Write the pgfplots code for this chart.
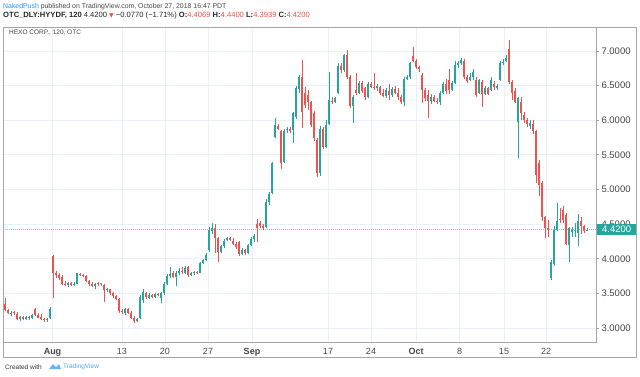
\documentclass[border=0pt]{standalone}
\usepackage{pgfplots}
\pgfplotsset{compat=1.18}
\usepackage{pgfplotstable}
\usepackage{fontspec}
\setmainfont{Liberation Sans}
\newfontfamily\symfont{DejaVu Sans}
\definecolor{tvgreen}{RGB}{38,166,154}
\definecolor{tvred}{RGB}{239,83,80}
\definecolor{tvblue}{RGB}{33,150,243}
\definecolor{gridc}{RGB}{234,240,245}
\definecolor{framec}{RGB}{165,165,165}
\definecolor{txt}{RGB}{70,70,70}

\pgfplotstableread{
x o h l c
5 3.34 3.43 3.24 3.26
8 3.26 3.28 3.20 3.22
11 3.20 3.24 3.18 3.22
14 3.22 3.24 3.19 3.21
17 3.20 3.23 3.12 3.13
20 3.13 3.18 3.10 3.16
23 3.16 3.18 3.11 3.13
26 3.13 3.17 3.11 3.16
29 3.15 3.18 3.12 3.14
32 3.14 3.20 3.13 3.19
35 3.27 3.29 3.17 3.19
38 3.19 3.22 3.14 3.15
41 3.16 3.20 3.12 3.13
44 3.13 3.15 3.09 3.11
47 3.11 3.14 3.09 3.12
50 3.14 3.30 3.13 3.28
53 4.04 4.06 3.43 3.80
56 3.80 3.82 3.72 3.76
59 3.76 3.79 3.70 3.72
62 3.74 3.76 3.62 3.64
65 3.64 3.68 3.60 3.62
68 3.62 3.67 3.59 3.65
71 3.65 3.67 3.60 3.62
74 3.62 3.66 3.61 3.64
77 3.64 3.80 3.63 3.79
80 3.78 3.79 3.75 3.76
83 3.76 3.78 3.73 3.75
86 3.75 3.76 3.66 3.68
89 3.68 3.70 3.61 3.63
92 3.63 3.66 3.59 3.61
95 3.60 3.65 3.56 3.64
98 3.64 3.67 3.61 3.63
101 3.63 3.65 3.60 3.64
104 3.62 3.63 3.38 3.55
107 3.55 3.58 3.52 3.56
110 3.56 3.57 3.48 3.50
113 3.50 3.52 3.44 3.46
116 3.46 3.48 3.40 3.42
119 3.42 3.44 3.22 3.25
122 3.25 3.28 3.20 3.23
125 3.21 3.29 3.19 3.27
128 3.27 3.29 3.20 3.22
131 3.22 3.24 3.13 3.15
134 3.15 3.17 3.07 3.10
137 3.10 3.15 3.08 3.13
140 3.14 3.47 3.13 3.45
143 3.40 3.56 3.36 3.52
146 3.50 3.52 3.42 3.45
149 3.44 3.50 3.42 3.48
152 3.47 3.49 3.43 3.45
155 3.45 3.50 3.44 3.49
158 3.49 3.51 3.46 3.47
161 3.43 3.52 3.36 3.50
164 3.50 3.66 3.48 3.64
167 3.64 3.78 3.62 3.75
170 3.75 3.88 3.72 3.78
173 3.79 3.82 3.72 3.74
176 3.74 3.82 3.60 3.80
179 3.80 3.86 3.76 3.83
182 3.83 3.88 3.78 3.81
185 3.80 3.90 3.78 3.87
188 3.88 3.90 3.74 3.77
191 3.77 3.81 3.75 3.79
194 3.79 3.82 3.77 3.80
197 3.81 3.83 3.78 3.79
200 3.80 3.96 3.79 3.94
203 3.94 4.00 3.92 3.98
206 3.98 4.08 3.97 4.06
209 4.12 4.46 4.10 4.42
212 4.40 4.52 4.36 4.45
215 4.44 4.50 4.08 4.30
218 4.30 4.32 3.96 4.10
221 4.10 4.20 4.08 4.18
224 4.18 4.28 4.16 4.26
227 4.27 4.32 4.25 4.30
230 4.30 4.31 4.26 4.27
233 4.26 4.30 4.20 4.22
236 4.22 4.24 4.14 4.17
239 4.24 4.26 4.04 4.07
242 4.07 4.15 4.05 4.12
245 4.12 4.14 4.05 4.08
248 4.08 4.22 4.07 4.20
251 4.20 4.32 4.18 4.29
254 4.28 4.36 4.24 4.33
257 4.50 4.57 4.24 4.44
260 4.52 4.55 4.45 4.47
263 4.47 4.50 4.42 4.44
266 4.46 4.86 4.45 4.82
269 4.82 4.97 4.78 4.94
272 4.95 5.40 4.93 5.38
275 5.76 6.03 5.74 5.93
278 5.92 5.95 5.86 5.88
281 5.84 5.86 5.30 5.38
284 5.40 5.88 5.38 5.84
287 5.86 5.90 5.82 5.88
290 5.88 5.90 5.82 5.84
293 5.86 6.12 5.67 6.10
296 6.05 6.50 6.02 6.47
299 6.45 6.66 6.40 6.62
302 6.62 6.87 5.89 6.12
305 6.40 6.48 6.18 6.22
308 6.36 6.44 6.15 6.26
311 6.26 6.28 5.90 5.93
314 6.10 6.14 5.70 5.74
317 5.72 5.74 5.18 5.24
320 5.24 5.92 5.20 5.88
323 5.88 5.90 5.58 5.62
326 5.62 6.00 5.60 5.93
329 5.95 6.70 5.93 6.29
332 6.28 6.33 6.24 6.26
335 6.27 6.34 6.25 6.32
338 6.40 6.82 6.38 6.78
341 6.78 6.82 6.68 6.72
344 6.72 6.96 6.70 6.94
347 6.94 7.01 6.60 6.62
350 6.62 6.66 6.18 6.20
353 6.20 6.36 5.96 6.34
356 6.44 6.68 6.36 6.40
359 6.40 6.56 6.38 6.54
362 6.54 6.56 6.40 6.43
365 6.46 6.48 6.30 6.33
368 6.33 6.55 6.32 6.52
371 6.52 6.55 6.46 6.48
374 6.48 6.68 6.44 6.46
377 6.46 6.52 6.43 6.50
380 6.48 6.50 6.36 6.40
383 6.40 6.45 6.33 6.35
386 6.35 6.46 6.32 6.44
389 6.42 6.52 6.30 6.36
392 6.36 6.48 6.34 6.45
395 6.45 6.50 6.38 6.40
398 6.40 6.46 6.30 6.34
401 6.34 6.36 6.24 6.27
404 6.26 6.62 6.20 6.60
407 6.60 6.66 6.58 6.62
410 6.62 6.84 6.60 6.82
413 6.93 7.06 6.84 6.86
416 6.86 6.88 6.74 6.77
419 6.77 6.79 6.70 6.74
422 6.66 6.68 6.25 6.44
425 6.44 6.46 6.28 6.32
428 6.36 6.44 6.03 6.28
431 6.28 6.38 6.24 6.34
434 6.34 6.36 6.26 6.28
437 6.28 6.32 6.24 6.26
440 6.26 6.42 6.22 6.40
443 6.40 6.55 6.38 6.52
446 6.52 6.60 6.38 6.42
449 6.58 6.74 6.38 6.44
452 6.44 6.56 6.42 6.54
455 6.54 6.86 6.52 6.80
458 6.80 6.86 6.76 6.83
461 6.83 6.90 6.80 6.87
464 6.86 6.88 6.60 6.63
467 6.63 6.66 6.54 6.56
470 6.58 6.68 6.56 6.62
473 6.62 6.74 6.58 6.70
476 6.58 6.62 6.34 6.37
479 6.40 6.60 6.38 6.58
482 6.55 6.58 6.19 6.38
485 6.38 6.50 6.36 6.46
488 6.46 6.48 6.36 6.38
491 6.44 6.62 6.42 6.58
494 6.52 6.56 6.44 6.48
497 6.46 6.52 6.44 6.50
500 6.58 6.86 6.56 6.82
503 6.82 6.88 6.80 6.84
506 6.86 6.94 6.84 6.90
509 7.03 7.16 6.52 6.55
512 6.55 6.58 6.30 6.40
515 6.42 6.46 6.25 6.27
518 5.97 6.34 5.45 6.32
521 6.27 6.34 6.00 6.10
524 6.08 6.12 5.96 6.00
527 6.00 6.04 5.90 5.94
530 5.92 6.00 5.88 5.96
533 5.94 6.00 5.80 5.84
536 5.84 5.86 5.09 5.21
539 5.38 5.42 4.90 5.06
542 5.09 5.12 4.55 4.60
545 4.60 4.62 4.30 4.45
548 4.44 4.56 4.32 4.41
551 3.72 3.98 3.70 3.95
554 3.92 4.48 3.90 4.42
557 4.42 4.80 4.40 4.55
560 4.58 4.74 4.52 4.56
563 4.70 4.76 4.52 4.56
566 4.63 4.66 4.20 4.22
569 4.20 4.46 3.95 4.44
572 4.38 4.46 4.32 4.42
575 4.40 4.52 4.32 4.41
578 4.37 4.65 4.18 4.55
581 4.55 4.60 4.36 4.47
584 4.47 4.49 4.37 4.40
587 4.4069 4.44 4.3939 4.42
}\candles

\pgfplotsset{
  candle/.style n args={2}{draw=none, mark=none, forget plot,
    error bars/y dir=plus, error bars/y explicit, error bars/error mark=none,
    error bars/error bar style={draw=#1, line width=#2, solid}},
}

\begin{document}
\begin{tikzpicture}[x=1pt,y=1pt]
\useasboundingbox (0,0) rectangle (640,376);
\fill[white] (0,0) rectangle (640,376);
% header
\node[anchor=west, inner sep=0pt, font=\fontsize{6.9}{8}\selectfont] at (3,369.5)
  {\textcolor{tvblue}{NakedPush} \textcolor{txt}{published on TradingView.com, October 27, 2018 16:47 PDT}};
\node[anchor=west, inner sep=0pt, font=\fontsize{7.6}{9}\selectfont, text=black!85] at (3,360.5)
  {\textbf{OTC\_DLY:HYYDF, 120} 4.4200 \textcolor{tvred}{\symfont\fontsize{6}{7}\selectfont ▼} −0.0770 (−1.71\%) \textbf{O:}\textcolor{tvred}{4.4069} \textbf{H:}\textcolor{tvred}{4.4400} \textbf{L:}\textcolor{tvred}{4.3939} \textbf{C:}\textcolor{tvred}{4.4200}};
% outer frame
\draw[framec, line width=0.8pt] (3,19) rectangle (636,349);
\begin{axis}[
  at={(3pt,34pt)}, anchor=south west, scale only axis,
  width=593pt, height=315pt,
  xmin=3, xmax=596, ymin=2.798, ymax=7.347,
  axis line style={framec, line width=0.8pt},
  xtick={52.5,122,165,208,252,328,371,416,459.5,504,546},
  xticklabels={\textbf{Aug},13,20,27,\textbf{Sep},17,24,\textbf{Oct},8,15,22},
  ytick={3,3.5,4,4.5,5,5.5,6,6.5,7},
  yticklabel pos=right,
  ytick pos=right,
  xtick pos=bottom,
  /pgf/number format/assume math mode=true,
  yticklabel style={/pgf/number format/.cd, fixed, fixed zerofill, precision=4, /tikz/.cd,
     font=\fontsize{9.5}{10}\selectfont, text=txt, xshift=-1pt},
  xticklabel style={font=\fontsize{9}{10}\selectfont, text=txt},
  grid=major, major grid style={gridc, line width=0.8pt},
  xtick style={draw=none},
  ytick style={framec, line width=0.8pt},
  tick align=outside, major tick length=3pt,
  clip=true,
]
\addplot[tvgreen!60, line width=0.7pt, dash pattern=on 1pt off 1pt] coordinates {(3,4.42) (596,4.42)};
% wicks
\addplot[candle={tvgreen}{0.7pt},
  restrict expr to domain={\thisrow{c}-\thisrow{o}}{0:100}]
  table[x=x, y=l, y error expr={\thisrow{h}-\thisrow{l}}] {\candles};
\addplot[candle={tvred}{0.7pt},
  restrict expr to domain={\thisrow{c}-\thisrow{o}}{-100:-0.00001}]
  table[x=x, y=l, y error expr={\thisrow{h}-\thisrow{l}}] {\candles};
% bodies
\addplot[candle={tvgreen}{2.2pt},
  restrict expr to domain={\thisrow{c}-\thisrow{o}}{0:100}]
  table[x=x, y expr={min(\thisrow{o},\thisrow{c})}, y error expr={max(abs(\thisrow{c}-\thisrow{o}),0.015)}] {\candles};
\addplot[candle={tvred}{2.2pt},
  restrict expr to domain={\thisrow{c}-\thisrow{o}}{-100:-0.00001}]
  table[x=x, y expr={min(\thisrow{o},\thisrow{c})}, y error expr={max(abs(\thisrow{c}-\thisrow{o}),0.015)}] {\candles};
\coordinate (lastp) at (axis cs:596,4.42);
\end{axis}
\node[anchor=west, fill=tvgreen, text=white, inner sep=0pt, minimum width=39pt, minimum height=11pt,
  font=\fontsize{9.5}{10}\selectfont, xshift=1pt] at (lastp) {4.4200};
\node[anchor=west, inner sep=0pt, font=\fontsize{6.5}{8}\selectfont, text=txt] at (9,343) {HEXO CORP., 120, OTC};
% footer
\node[anchor=west, inner sep=0pt, font=\fontsize{6.5}{8}\selectfont, text=black!80] at (5,9) {Created with};
\fill[tvblue!70] (49,7) -- (53,12) -- (56,9) -- (59,12) -- (61,7) -- cycle;
\node[anchor=west, inner sep=0pt, font=\fontsize{6.5}{8}\selectfont, text=tvblue!80] at (63,9) {TradingView};
\end{tikzpicture}
\end{document}
